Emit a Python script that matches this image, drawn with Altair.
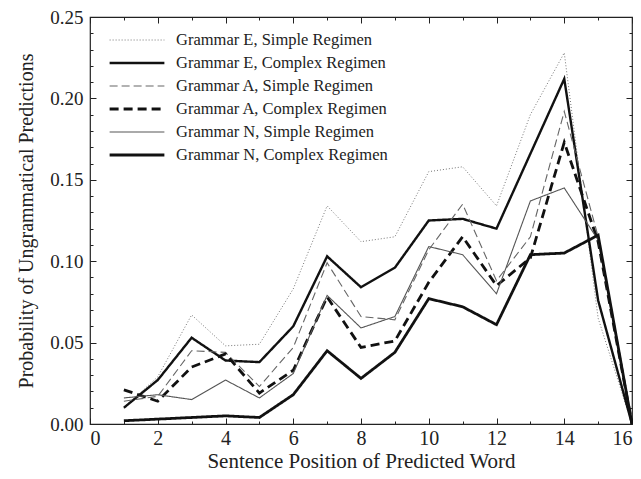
import altair as alt
import pandas as pd

positions = list(range(1, 17))
series_names = [
    "Grammar E, Simple Regimen",
    "Grammar E, Complex Regimen",
    "Grammar A, Simple Regimen",
    "Grammar A, Complex Regimen",
    "Grammar N, Simple Regimen",
    "Grammar N, Complex Regimen",
]
e_simple = [0.010, 0.029, 0.067, 0.048, 0.049, 0.083, 0.134, 0.112, 0.115, 0.155, 0.158, 0.134, 0.190, 0.228, 0.065, 0.0]
e_complex = [0.010, 0.027, 0.053, 0.039, 0.038, 0.060, 0.103, 0.084, 0.096, 0.125, 0.126, 0.120, 0.166, 0.212, 0.076, 0.0]
a_simple = [0.014, 0.017, 0.045, 0.044, 0.023, 0.047, 0.099, 0.066, 0.064, 0.107, 0.135, 0.088, 0.115, 0.192, 0.115, 0.0]
a_complex = [0.021, 0.014, 0.035, 0.043, 0.019, 0.033, 0.078, 0.047, 0.051, 0.087, 0.115, 0.085, 0.102, 0.173, 0.112, 0.0]
n_simple = [0.016, 0.018, 0.015, 0.027, 0.016, 0.031, 0.079, 0.059, 0.066, 0.109, 0.104, 0.080, 0.137, 0.145, 0.113, 0.0]
n_complex = [0.002, 0.003, 0.004, 0.005, 0.004, 0.018, 0.045, 0.028, 0.044, 0.077, 0.072, 0.061, 0.104, 0.105, 0.116, 0.0]

x_major = [0, 2, 4, 6, 8, 10, 12, 14, 16]
x_minor = [1, 3, 5, 7, 9, 11, 13, 15]
y_major = [0.0, 0.05, 0.10, 0.15, 0.20, 0.25]
y_minor = [i / 100 for i in range(1, 25) if i % 5 != 0]

all_series = [e_simple, e_complex, a_simple, a_complex, n_simple, n_complex]
rows = []
for name, vals in zip(series_names, all_series):
    for p, v in zip(positions, vals):
        rows.append({"pos": p, "val": v, "series": name})
df = pd.DataFrame(rows)

color_range = ["#777777", "#111111", "#666666", "#111111", "#555555", "#111111"]
dash_range = [[1, 2], [1, 0], [8, 4], [9, 5], [1, 0], [1, 0]]
width_range = [1.0, 2.4, 1.1, 2.8, 1.1, 2.8]

FONT = "Liberation Serif"
TXT = "#222222"

xscale = alt.Scale(domain=[0, 16], nice=False)
yscale = alt.Scale(domain=[0, 0.25], nice=False)


def ax(orient, values, size, labels=False, title=None, fmt=None, pad=4, tpad=0, tsize=21, lsize=19):
    kw = dict(orient=orient, values=values, tickSize=size, offset=-size, domain=False,
              grid=False, labels=labels, tickColor="#222222", tickWidth=1, title=title)
    if labels:
        kw.update(labelFont=FONT, labelFontSize=lsize, labelColor=TXT, labelPadding=pad, format=fmt)
    if title:
        kw.update(titleFont=FONT, titleFontSize=tsize, titleFontWeight="normal", titleColor=TXT,
                  titlePadding=tpad)
    return alt.Axis(**kw)


base = alt.Chart(df)

lines = base.mark_line().encode(
    x=alt.X("pos:Q", scale=xscale,
            axis=ax("bottom", x_major, 6, labels=True, title="Sentence Position of Predicted Word",
                    fmt="d", pad=4, tpad=2, tsize=21, lsize=20)),
    y=alt.Y("val:Q", scale=yscale,
            axis=ax("left", y_major, 6, labels=True, title="Probability of Ungrammatical Predictions",
                    fmt=".2f", pad=7, tpad=13, tsize=20, lsize=19)),
    color=alt.Color("series:N", sort=series_names,
                    scale=alt.Scale(domain=series_names, range=color_range),
                    legend=alt.Legend(title=None)),
    strokeDash=alt.StrokeDash("series:N", sort=series_names,
                              scale=alt.Scale(domain=series_names, range=dash_range),
                              legend=alt.Legend(title=None)),
    strokeWidth=alt.StrokeWidth("series:N", sort=series_names,
                                scale=alt.Scale(type="ordinal", domain=series_names, range=width_range),
                                legend=alt.Legend(title=None)),
)

minor_lb = base.mark_line(opacity=0).encode(
    x=alt.X("pos:Q", scale=xscale, axis=ax("bottom", x_minor, 3)),
    y=alt.Y("val:Q", scale=yscale, axis=ax("left", y_minor, 3)),
    detail="series:N",
)
major_tr = base.mark_line(opacity=0).encode(
    x=alt.X("pos:Q", scale=xscale, axis=ax("top", x_major, 6)),
    y=alt.Y("val:Q", scale=yscale, axis=ax("right", y_major, 6)),
    detail="series:N",
)
minor_tr = base.mark_line(opacity=0).encode(
    x=alt.X("pos:Q", scale=xscale, axis=ax("top", x_minor, 3)),
    y=alt.Y("val:Q", scale=yscale, axis=ax("right", y_minor, 3)),
    detail="series:N",
)

chart = (
    alt.layer(lines, minor_lb, major_tr, minor_tr)
    .resolve_axis(x="independent", y="independent")
    .properties(
        width=542,
        height=407,
        autosize=alt.AutoSizeParams(type="none"),
        padding={"left": 82, "top": 9, "right": 1, "bottom": 47},
        background="white",
    )
    .configure_view(stroke="#222222", strokeWidth=1.2)
    .configure_legend(
        orient="none",
        legendX=18,
        legendY=14,
        symbolType="stroke",
        symbolSize=3000,
        clipHeight=18,
        rowPadding=5,
        labelFont=FONT,
        labelFontSize=16.5,
        labelColor=TXT,
        labelOffset=10,
        labelLimit=400,
        padding=0,
    )
)

chart.save("out.html", embed_options={"renderer": "svg", "actions": False})
